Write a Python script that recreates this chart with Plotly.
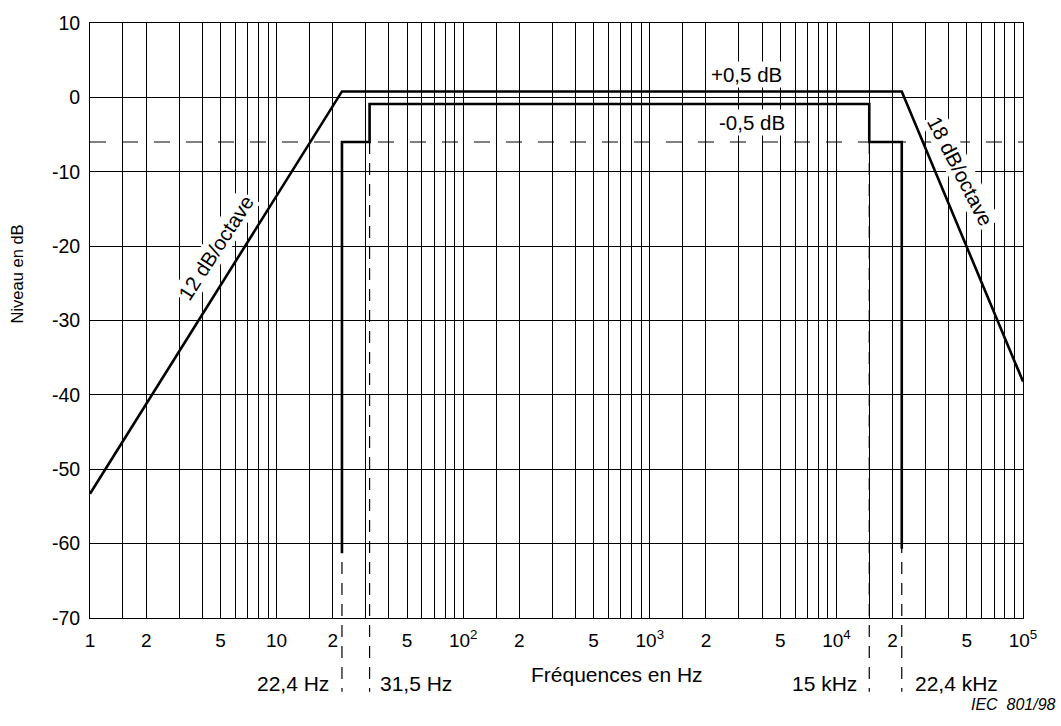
import math
import plotly.graph_objects as go

# gabarit (template) curves, frequency in Hz, level in dB
outer_freq = [1, 22.4, 22400, 100000]
outer_db = [-53.3, 0.8, 0.8, -38.2]

inner_freq = [22.4, 22.4, 31.5, 31.5, 15000, 15000, 22400, 22400]
inner_db = [-61.3, -6.0, -6.0, -0.9, -0.9, -6.0, -6.0, -60.7]

ref_level_db = -6.0
ref_freq = [1, 100000]

marker_freqs = [22.4, 31.5, 15000, 22400]
marker_labels = ["22,4 Hz", "31,5 Hz", "15 kHz", "22,4 kHz"]

decades = [1, 10, 100, 1000, 10000]
labelled_mult = [1, 2, 5]
minor_mult = [1.5, 3, 4, 6, 7, 8, 9]

y_ticks = [-70, -60, -50, -40, -30, -20, -10, 0, 10]
y_range = [-70, 10]

FONT = "Liberation Sans, Arial, sans-serif"


def tick_label(v):
    if v < 10:
        return str(int(v))
    e = round(math.log10(v))
    if abs(v - 10 ** e) < 1e-9:
        return "10" if e == 1 else "10<sup>%d</sup>" % e
    return str(int(round(v / 10 ** math.floor(math.log10(v)))))


tickvals = [d * m for d in decades for m in labelled_mult] + [100000]
ticktext = [tick_label(v) for v in tickvals]
minorvals = [d * m for d in decades for m in minor_mult]

fig = go.Figure()

fig.add_trace(go.Scatter(
    x=ref_freq, y=[ref_level_db] * len(ref_freq), mode="lines",
    line=dict(color="black", width=1.2, dash="16px,16px"),
    hoverinfo="skip", showlegend=False))
fig.add_trace(go.Scatter(
    x=outer_freq, y=outer_db, mode="lines",
    line=dict(color="black", width=2.6),
    hoverinfo="skip", showlegend=False))
fig.add_trace(go.Scatter(
    x=inner_freq, y=inner_db, mode="lines",
    line=dict(color="black", width=2.6),
    hoverinfo="skip", showlegend=False))


def paper_y(db):
    return (db - y_range[0]) / (y_range[1] - y_range[0])


# dashed marker lines, from the -6 dB level down below the axis
shapes = []
for f in marker_freqs:
    shapes.append(dict(
        type="line", xref="x", yref="paper",
        x0=f, x1=f,
        y0=paper_y(ref_level_db), y1=-0.124,
        line=dict(color="black", width=1.2, dash="12px,9px"),
        layer="above"))

annotations = []
anchors = ["right", "left", "right", "left"]
shifts = [-11, 8, -10, 11]
for f, lab, a, s in zip(marker_freqs, marker_labels, anchors, shifts):
    annotations.append(dict(
        x=math.log10(f), xref="x", y=-0.110, yref="paper",
        text=lab, showarrow=False, xanchor=a, yanchor="middle", xshift=s,
        font=dict(size=21, color="black", family=FONT)))

annotations += [
    dict(x=3.516, y=3.1, xref="x", yref="y", text="+0,5 dB", showarrow=False,
         bgcolor="white", font=dict(size=20.5, color="black", family=FONT)),
    dict(x=3.548, y=-3.35, xref="x", yref="y", text="-0,5 dB", showarrow=False,
         bgcolor="white", font=dict(size=20.5, color="black", family=FONT)),
    dict(x=0.675, y=-20.2, xref="x", yref="y", text="12 dB/octave", showarrow=False,
         textangle=-57, bgcolor="white", font=dict(size=20.5, color="black", family=FONT)),
    dict(x=4.665, y=-10.0, xref="x", yref="y", text="18 dB/octave", showarrow=False,
         textangle=63, bgcolor="white", font=dict(size=20.5, color="black", family=FONT)),
    dict(x=0.5648, y=-0.0952, xref="paper", yref="paper", text="Fréquences en Hz",
         showarrow=False, xanchor="center", yanchor="middle",
         font=dict(size=21, color="black", family=FONT)),
    dict(x=-0.0772, y=0.579, xref="paper", yref="paper", text="Niveau en dB",
         showarrow=False, textangle=-90, xanchor="center", yanchor="middle",
         font=dict(size=16.5, color="black", family=FONT)),
    dict(x=1.0375, y=-0.145, xref="paper", yref="paper", text="IEC\u00a0\u00a0801/98",
         showarrow=False, xanchor="right", yanchor="middle",
         font=dict(size=16, color="black", family=FONT, style="italic")),
]

fig.update_layout(
    width=1061, height=726,
    margin=dict(l=90, r=38, t=19, b=108),
    paper_bgcolor="white", plot_bgcolor="white",
    font=dict(family=FONT, color="black"),
    shapes=shapes, annotations=annotations,
    xaxis=dict(
        type="log", range=[0, 5],
        tickmode="array", tickvals=tickvals, ticktext=ticktext,
        showgrid=True, gridcolor="black", gridwidth=1,
        minor=dict(tickmode="array", tickvals=minorvals, showgrid=True,
                   gridcolor="black", gridwidth=1, ticks=""),
        showline=True, linecolor="black", linewidth=1, mirror=True,
        ticks="", ticklabelstandoff=5,
        tickfont=dict(size=19, family=FONT, color="black"),
        zeroline=False, fixedrange=True),
    yaxis=dict(
        range=y_range, tickmode="array", tickvals=y_ticks,
        ticktext=[str(v) for v in y_ticks],
        showgrid=True, gridcolor="black", gridwidth=1,
        showline=True, linecolor="black", linewidth=1, mirror=True,
        ticks="", ticklabelstandoff=5,
        tickfont=dict(size=19.5, family=FONT, color="black"),
        zeroline=False, fixedrange=True),
)

fig.write_html("out.html", config={"displayModeBar": False},
               post_script="document.body.style.margin='0';")
